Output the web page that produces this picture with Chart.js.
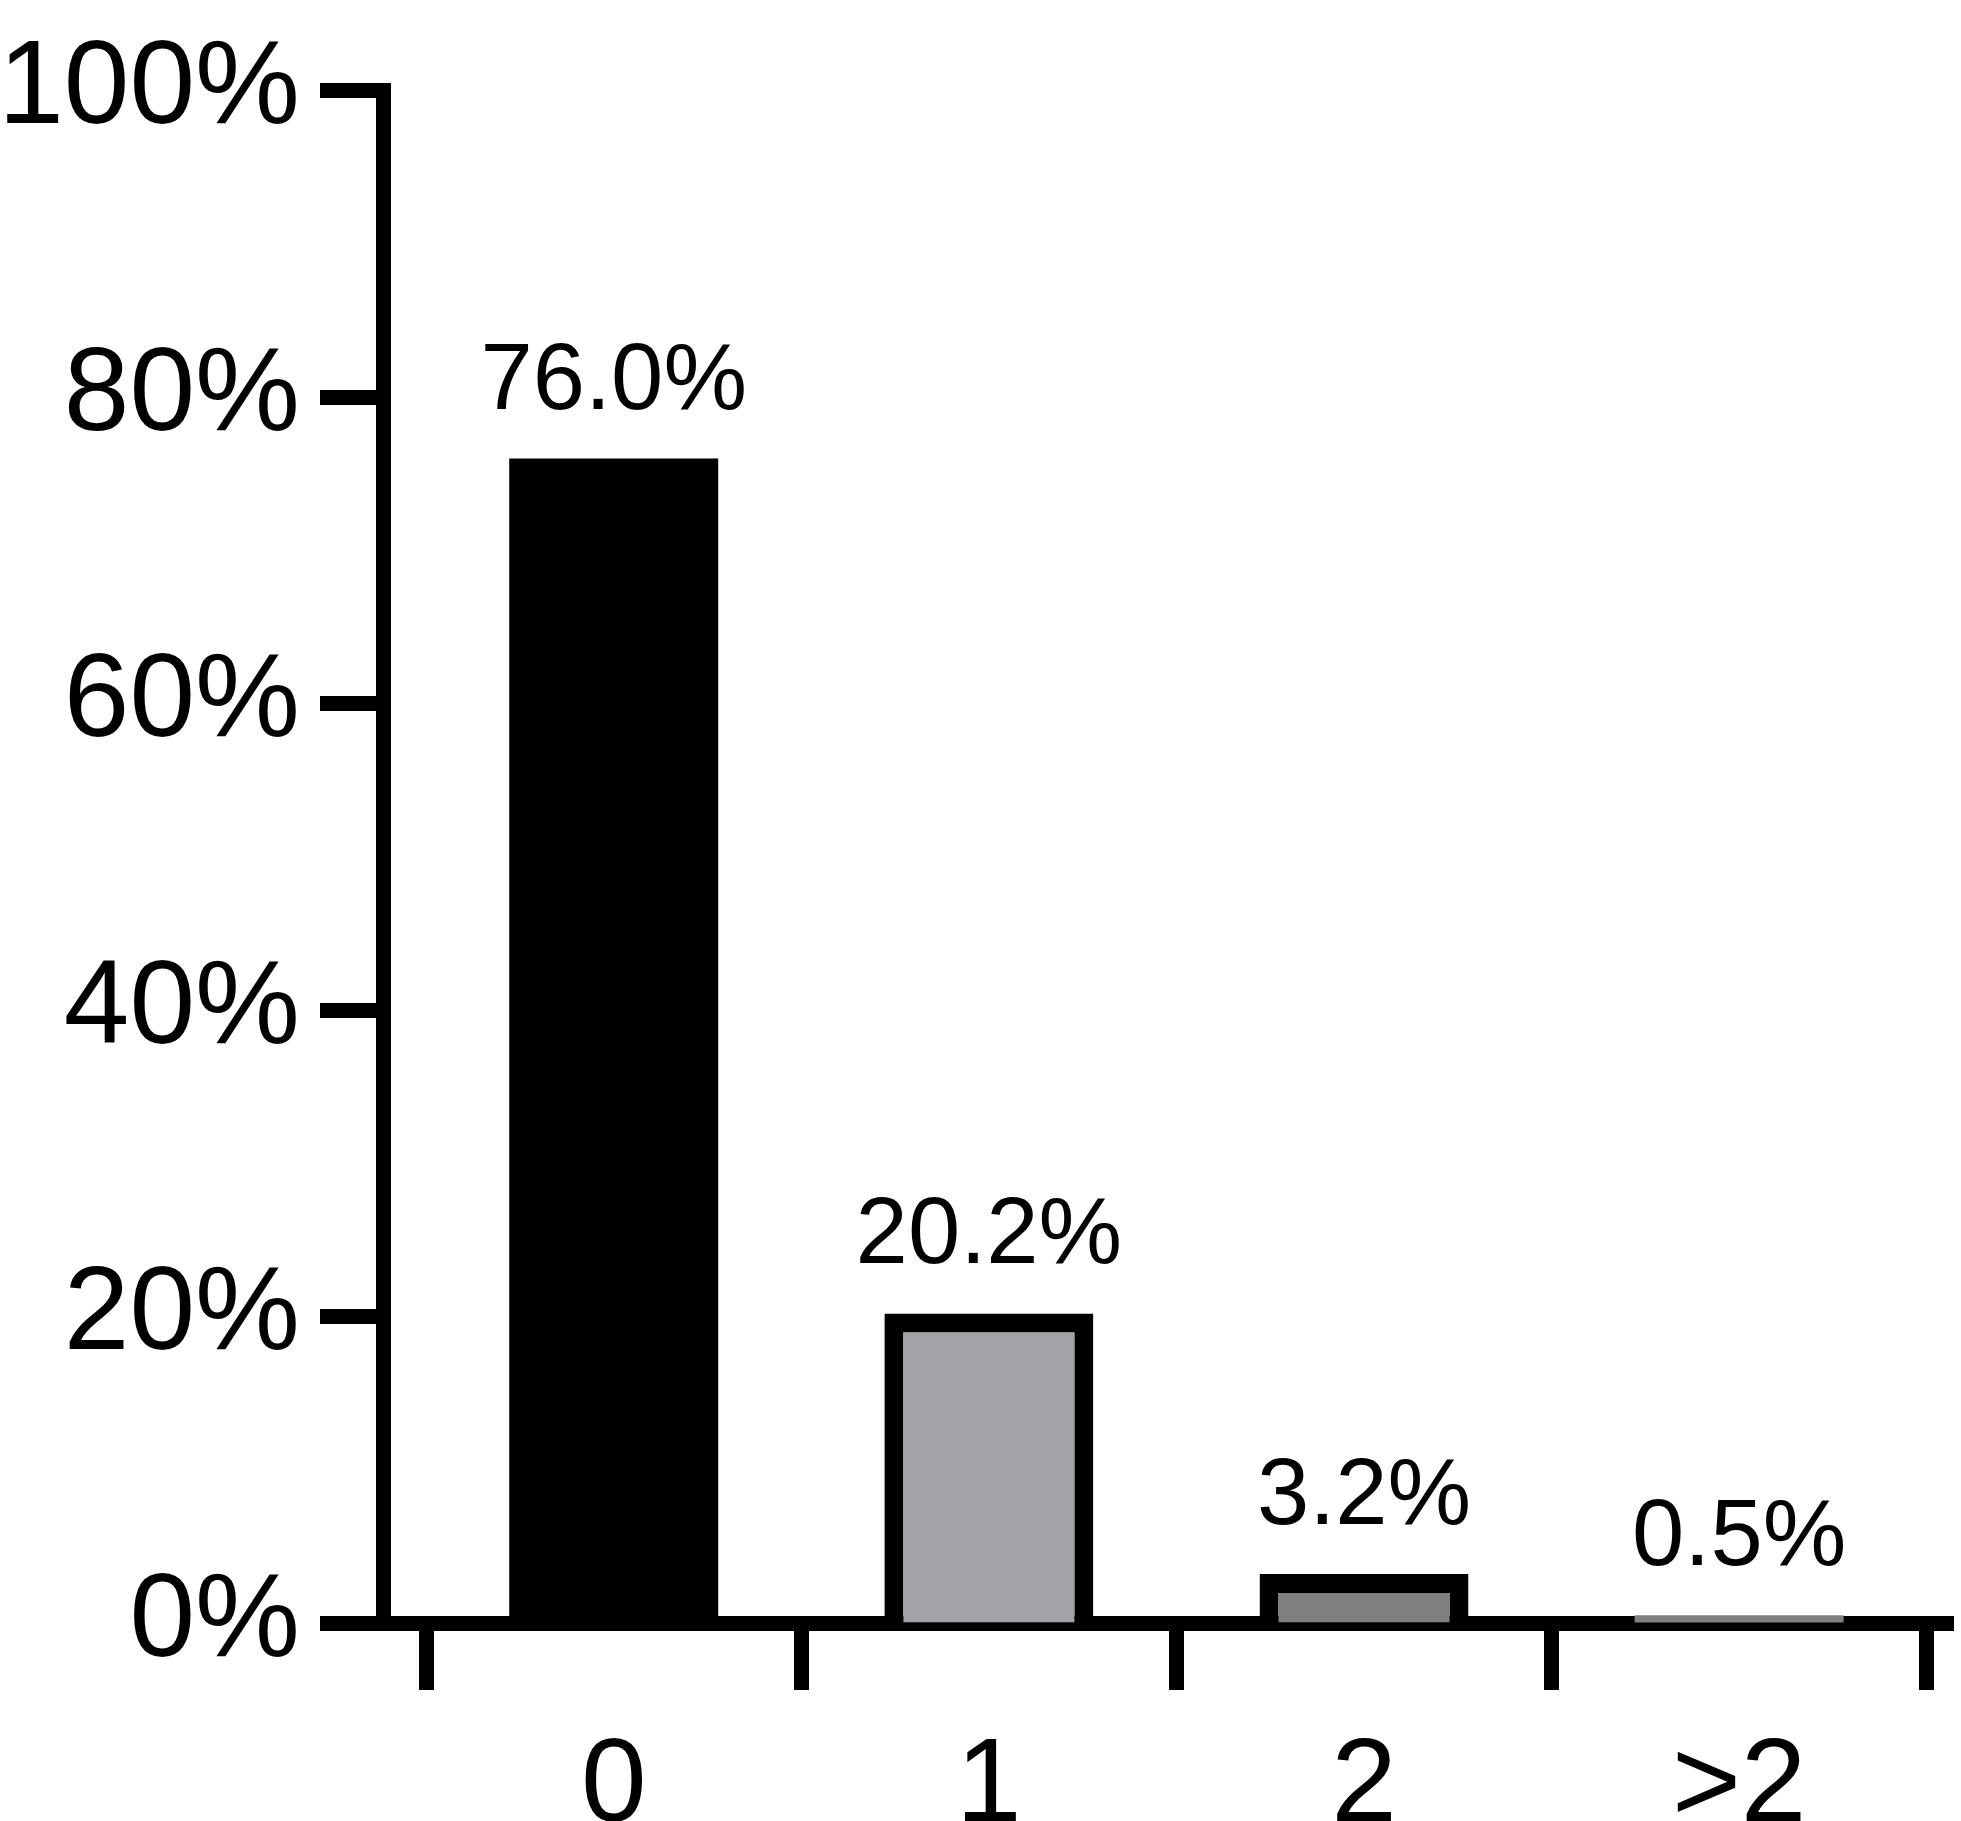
<!DOCTYPE html>
<html><head><meta charset="utf-8">
<script src="https://cdn.jsdelivr.net/npm/chart.js@4"></script>
<style>html,body{margin:0;padding:0;background:#fff}#w{width:1961px;height:1821px}</style>
</head><body><div id="w"><canvas id="c"></canvas></div>
<script>
const categories = ["0", "1", "2", ">2"];
const values = [76.0, 20.2, 3.2, 0.5];
const valueLabels = ["76.0%", "20.2%", "3.2%", "0.5%"];
const yTicks = [0, 20, 40, 60, 80, 100];
const fills = ["#000000", "#a3a2a7", "#808080", "#808080"];

const labelPlugin = {
  id: 'vlabels',
  afterDatasetsDraw(chart) {
    const ctx = chart.ctx;
    const meta = chart.getDatasetMeta(0);
    ctx.save();
    ctx.fillStyle = '#000';
    ctx.font = '94px "Liberation Sans", Arial, sans-serif';
    ctx.textAlign = 'center';
    ctx.textBaseline = 'alphabetic';
    meta.data.forEach((el, i) => {
      const top = Math.min(el.y, chart.scales.y.getPixelForValue(values[i]));
      ctx.fillText(valueLabels[i], el.x, top - 50);
    });
    ctx.restore();
  }
};

new Chart(document.getElementById('c'), {
  type: 'bar',
  data: {
    datasets: [{
      data: values.map((v, i) => ({x: i, y: v})),
      backgroundColor: fills,
      borderColor: '#000',
      borderWidth: [0, 19, 19, 0],
      borderSkipped: 'bottom',
      barPercentage: 0.557,
      categoryPercentage: 1
    }]
  },
  options: {
    responsive: true, maintainAspectRatio: false, animation: false,
    devicePixelRatio: 1,
    layout: {padding: {top: 57, right: 8, left: 0, bottom: 0}},
    plugins: {legend: {display: false}, tooltip: {enabled: false}},
    scales: {
      x: {
        type: 'linear', min: -0.615, max: 3.57, offset: false,
        afterBuildTicks: s => { s.ticks = categories.map((c, i) => ({value: i})); },
        afterFit: s => { s.height = 198; },
        ticks: {
          color: '#000', padding: 28,
          font: {size: 118, family: '"Liberation Sans", Arial, sans-serif'},
          callback: v => categories[v]
        },
        grid: {drawOnChartArea: false, drawTicks: true, tickLength: 67, tickWidth: 15, color: '#000'},
        border: {display: true, width: 15, color: '#000'}
      },
      y: {
        min: 0, max: 100,
        afterBuildTicks: s => { s.ticks = yTicks.map(v => ({value: v})); },
        afterFit: s => { s.width = 383; },
        ticks: {
          color: '#000', padding: 20,
          font: {size: 118, family: '"Liberation Sans", Arial, sans-serif'},
          callback: v => v + '%'
        },
        grid: {drawOnChartArea: false, drawTicks: true, tickLength: 63, tickWidth: 15, color: '#000'},
        border: {display: true, width: 15, color: '#000'}
      }
    }
  },
  plugins: [labelPlugin]
});
</script></body></html>
